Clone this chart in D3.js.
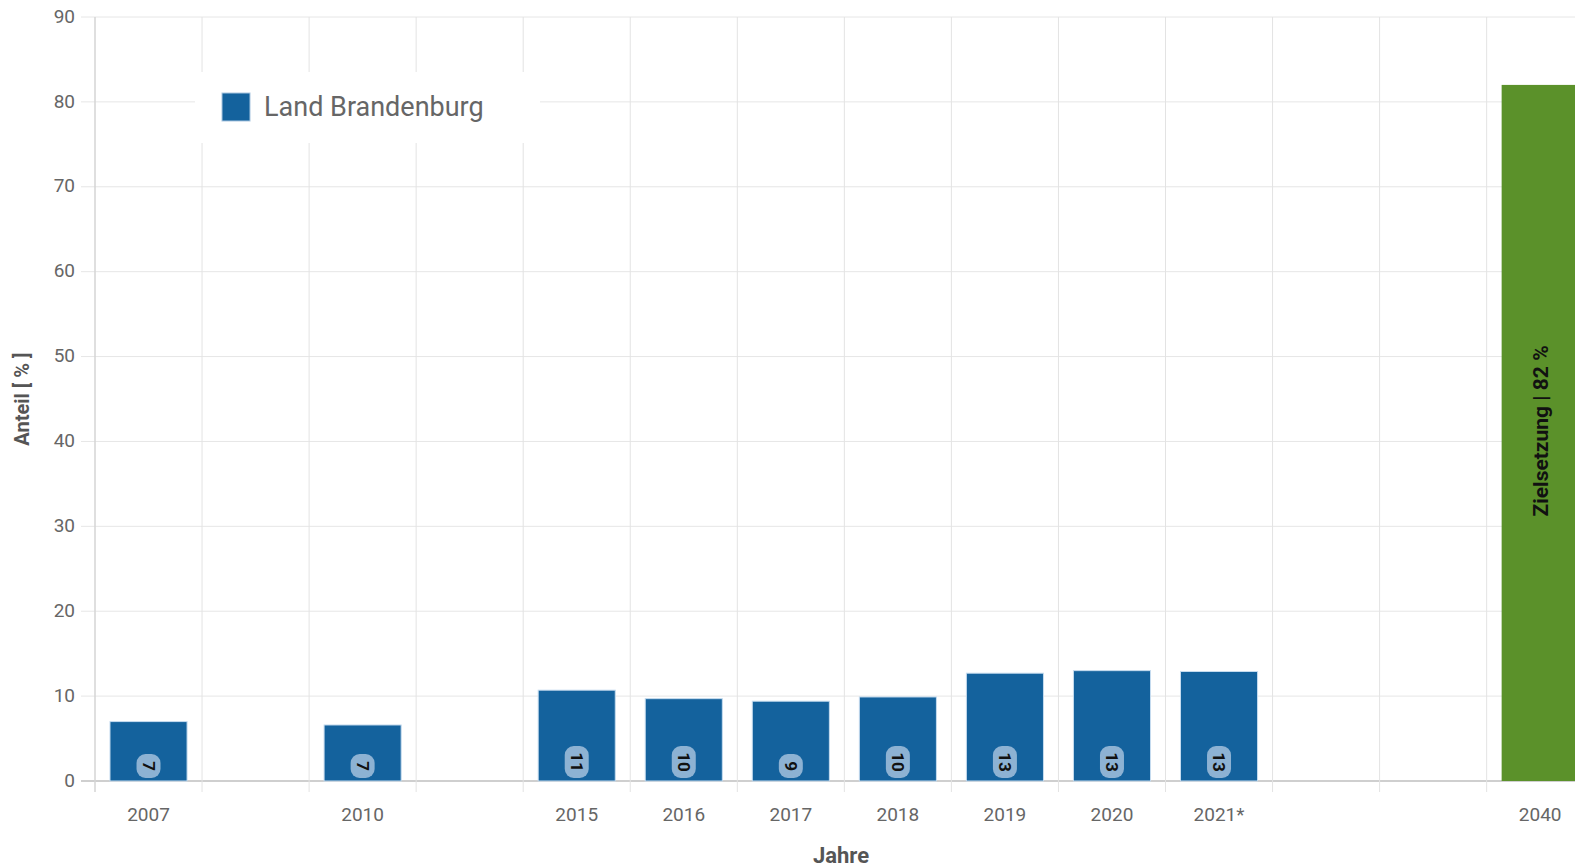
<!DOCTYPE html>
<html>
<head>
<meta charset="utf-8">
<script src="https://cdn.jsdelivr.net/npm/d3@7"></script>
<style>
  html, body { margin: 0; padding: 0; background: #fff; overflow: hidden; }
  text { font-family: "Liberation Sans Narrow", "Roboto", "DejaVu Sans Condensed", sans-serif; }
</style>
</head>
<body>
<div id="chart"></div>
<script>
// categories on the x axis (blank slots keep the spacing of the original)
var categories = ["2007", "", "2010", "", "2015", "2016", "2017", "2018", "2019", "2020", "2021*", "", "", "2040"];
// Land Brandenburg, share in %
var years = ["2007", "2010", "2015", "2016", "2017", "2018", "2019", "2020", "2021*"];
var values = [7.0, 6.6, 10.7, 9.7, 9.4, 9.9, 12.7, 13.0, 12.9];
// target for 2040
var targetYear = "2040";
var targetValue = 82;
var yTicks = [0, 10, 20, 30, 40, 50, 60, 70, 80, 90];

var width = 1575;
var height = 868;
var margin = { top: 17, left: 95, bottom: 87 };
var band = 107.05;

var svg = d3.select("#chart").append("svg")
  .attr("width", width).attr("height", height);

var x = d3.scaleBand()
  .domain(d3.range(categories.length))
  .range([margin.left, margin.left + band * categories.length])
  .paddingInner(0.28).paddingOuter(0.14);

var y = d3.scaleLinear().domain([0, 90]).range([height - margin.bottom, margin.top]);

function xc(label) {
  var i = categories.indexOf(label);
  return x(i) + x.bandwidth() / 2;
}

// horizontal grid
svg.append("g").selectAll("line").data(yTicks).enter().append("line")
  .attr("x1", margin.left - 14).attr("x2", width)
  .attr("y1", function(d) { return y(d); }).attr("y2", function(d) { return y(d); })
  .style("stroke", function(d) { return d === 0 ? "#cfcfcf" : "#e6e6e6"; })
  .style("stroke-width", function(d) { return d === 0 ? 2 : 1; });

// vertical grid (category boundaries), extended below as ticks
var bounds = d3.range(categories.length + 1).map(function(i) { return margin.left + band * i; });
svg.append("g").selectAll("line").data(bounds).enter().append("line")
  .attr("x1", function(d) { return d; }).attr("x2", function(d) { return d; })
  .attr("y1", margin.top).attr("y2", y(0) + 11)
  .style("stroke", function(d, i) { return i === 0 ? "#d4d4d4" : "#e3e3e3"; })
  .style("stroke-width", function(d, i) { return i === 0 ? 1.5 : 1; });

// y tick labels
svg.append("g").selectAll("text").data(yTicks).enter().append("text")
  .attr("x", 75).attr("y", function(d) { return y(d); })
  .attr("dy", "0.3em")
  .attr("text-anchor", "end")
  .style("font-size", "19px").style("fill", "#666")
  .text(function(d) { return d; });

// x tick labels
svg.append("g").selectAll("text").data(categories).enter().append("text")
  .attr("x", function(d, i) { return x(i) + x.bandwidth() / 2; })
  .attr("y", y(0) + 33)
  .attr("dy", "0.35em")
  .attr("text-anchor", "middle")
  .style("font-size", "19px").style("fill", "#666")
  .text(function(d) { return d; });

// axis titles
svg.append("text")
  .attr("transform", "translate(22," + y(45) + ") rotate(-90)")
  .attr("dy", "0.35em")
  .attr("text-anchor", "middle")
  .style("font-size", "20px").style("font-weight", "bold").style("fill", "#555")
  .text("Anteil [ % ]");

svg.append("text")
  .attr("x", 841).attr("y", 855)
  .attr("dy", "0.35em")
  .attr("text-anchor", "middle")
  .style("font-size", "22px").style("font-weight", "bold").style("fill", "#555")
  .text("Jahre");

// legend
svg.append("rect").attr("x", 195).attr("y", 72).attr("width", 345).attr("height", 71).style("fill", "#fff");
svg.append("rect").attr("x", 222).attr("y", 93).attr("width", 28).attr("height", 28)
  .style("fill", "#14629d").style("stroke", "#a9c6e0").style("stroke-width", 1);
svg.append("text").attr("x", 264).attr("y", 107).attr("dy", "0.35em")
  .style("font-size", "27px").style("fill", "#666")
  .text("Land Brandenburg");

// bars
svg.append("g").selectAll("rect").data(values).enter().append("rect")
  .attr("x", function(d, i) { return xc(years[i]) - x.bandwidth() / 2; })
  .attr("y", function(d) { return y(d); })
  .attr("width", x.bandwidth())
  .attr("height", function(d) { return y(0) - y(d); })
  .style("fill", "#14629d")
  .style("stroke", "#c6dcef").style("stroke-width", 1);

// data labels: rotated, inside the base of each bar
var lab = svg.append("g").selectAll("g").data(values).enter().append("g")
  .attr("transform", function(d, i) { return "translate(" + xc(years[i]) + "," + (y(0) - 3) + ")"; });
lab.append("rect")
  .attr("x", -12)
  .attr("y", function(d) { return Math.round(d) >= 10 ? -32 : -24; })
  .attr("width", 24)
  .attr("height", function(d) { return Math.round(d) >= 10 ? 32 : 24; })
  .attr("rx", 9)
  .style("fill", "#8db2d3");
lab.append("text")
  .attr("transform", function(d) { return "translate(0," + (Math.round(d) >= 10 ? -16 : -12) + ") rotate(90)"; })
  .attr("dy", "0.35em")
  .attr("text-anchor", "middle")
  .style("font-size", "17px").style("font-weight", "bold").style("fill", "#111")
  .text(function(d) { return Math.round(d); });

// target bar 2040
svg.append("rect")
  .attr("x", xc(targetYear) - x.bandwidth() / 2)
  .attr("y", y(targetValue))
  .attr("width", x.bandwidth())
  .attr("height", y(0) - y(targetValue))
  .style("fill", "#5b912a");
svg.append("text")
  .attr("transform", "translate(" + xc(targetYear) + "," + (y(targetValue / 2) - 2) + ") rotate(-90)")
  .attr("dy", "0.35em")
  .attr("text-anchor", "middle")
  .style("font-size", "21px").style("font-weight", "bold").style("fill", "#111")
  .text("Zielsetzung | " + targetValue + " %");
</script>
</body>
</html>
